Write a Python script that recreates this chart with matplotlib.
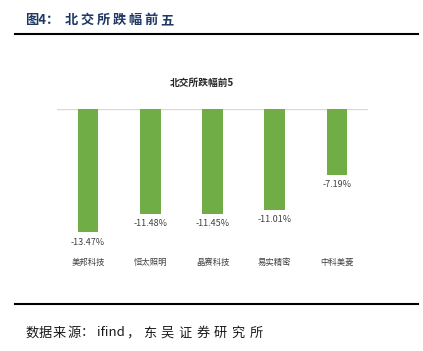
import matplotlib
matplotlib.use("Agg")
import matplotlib.pyplot as plt

plt.rcParams['font.family'] = ['Noto Sans CJK SC', 'DejaVu Sans']

categories = ["美邦科技", "恒太照明", "晶赛科技", "易实精密", "中科美菱"]
values = [-13.47, -11.48, -11.45, -11.01, -7.19]
value_labels = ["-13.47%", "-11.48%", "-11.45%", "-11.01%", "-7.19%"]

W, H = 423, 351
fig = plt.figure(figsize=(W / 100, H / 100), dpi=100)

def fx(px):
    return px / W

def fy(py):
    return 1 - py / H

def spaced(x0, y, s, step, **kw):
    for i, ch in enumerate(s):
        fig.text(fx(x0 + i * step), fy(y), ch, ha='left', va='baseline', **kw)

# Header
hdr = dict(fontsize=9.5, fontweight='bold', color='#1f3864')
fig.text(fx(25), fy(24), "图4：", ha='left', va='baseline', **hdr)
spaced(65, 24, "北交所跌幅前五", 15.9, **hdr)
fig.add_artist(plt.Line2D([fx(15), fx(418)], [fy(34), fy(34)], color='black', lw=1.5))

# Chart
ax_top, ax_bot = 109, 255
ax = fig.add_axes([fx(57), fy(ax_bot), fx(368) - fx(57), (ax_bot - ax_top) / H])
x = range(len(categories))
ax.bar(x, values, width=0.33, color='#70ad47', zorder=2)
ax.axhline(0, color='#d9d9d9', lw=1, zorder=1)
ax.set_xlim(-0.5, len(categories) - 0.5)
ax.set_ylim(-(ax_bot - ax_top) / 9.13, 0)
for s in ax.spines.values():
    s.set_visible(False)
ax.set_yticks([])
ax.set_xticks(list(x))
ax.set_xticklabels(categories, fontsize=6, color='#404040')
ax.tick_params(axis='x', length=0, pad=2)
for xi, v, lab in zip(x, values, value_labels):
    ax.annotate(lab, (xi, v), xytext=(0, -4), textcoords='offset points',
                ha='center', va='top', fontsize=6.5, color='#404040')

fig.text(fx(202), fy(83), "北交所跌幅前5", fontsize=7, fontweight='bold',
         color='#262626', ha='center', va='center')

# Footer
fig.add_artist(plt.Line2D([fx(15), fx(418)], [fy(304), fy(304)], color='black', lw=1.5))
ftr = dict(fontsize=9.5, color='#1a1a1a')
spaced(25, 336.5, "数据来源：", 14, **ftr)
fig.text(fx(97), fy(336.5), "ifind", ha='left', va='baseline', **ftr)
fig.text(fx(126), fy(336.5), "，", ha='left', va='baseline', **ftr)
spaced(143, 336.5, "东吴证券研究所", 17.7, **ftr)

fig.savefig("out.png", dpi=100)
